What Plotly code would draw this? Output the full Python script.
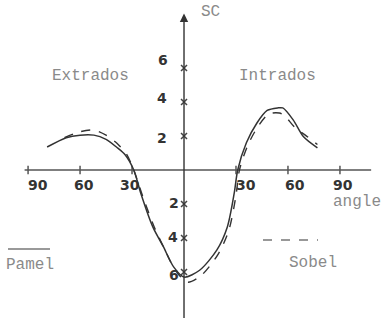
import plotly.graph_objects as go

# Readings from the sketch (angle in degrees, left side = extrados drawn as negative)
pamel_angle = [-79, -68, -60, -52, -45, -39, -34, -29, -25, -18, -12, -6, 0, 9, 19, 25, 29, 31, 36, 42, 48, 54, 57, 63, 69, 77]
pamel_sc = [1.35, 1.9, 2.05, 2.05, 1.8, 1.35, 0.9, 0, -1.35, -3.35, -4.5, -5.7, -6.3, -5.9, -4.7, -3.35, -1.35, 0, 1.6, 2.75, 3.5, 3.65, 3.65, 2.95, 1.95, 1.3]

sobel_angle = [-69, -60, -52, -45, -38, -33, -29, -24, -17, -11, -5, 2, 10, 20, 26, 30, 32, 37, 43, 49, 55, 58, 64, 70, 77]
sobel_sc = [1.9, 2.25, 2.35, 2.05, 1.5, 0.9, 0, -1.5, -3.4, -4.7, -5.9, -6.6, -6.2, -4.9, -3.5, -1.5, 0, 1.5, 2.6, 3.3, 3.35, 3.2, 2.5, 2.05, 1.5]

x_ticks = [-90, -60, -30, 30, 60, 90]
x_tick_text = ['90', '60', '30', '30', '60', '90']
y_ticks = [6, 4, 2, -2, -4, -6]
y_tick_text = ['6', '4', '2', '2', '4', '6']

INK = '#333333'
PENCIL = '#8a8a8a'
MONO = 'Liberation Mono, Courier New, monospace'
HAND = 'DejaVu Sans, sans-serif'

fig = go.Figure()

# axes as drawn lines
fig.add_trace(go.Scatter(x=[-92, 108], y=[0, 0], mode='lines',
                         line=dict(color='#555555', width=1.3), hoverinfo='skip'))
fig.add_trace(go.Scatter(x=x_ticks, y=[0] * len(x_ticks), mode='markers',
                         marker=dict(symbol='line-ns', size=6, line=dict(color='#555555', width=1.5)),
                         hoverinfo='skip'))
fig.add_trace(go.Scatter(x=[0] * len(y_ticks), y=y_ticks, mode='markers',
                         marker=dict(symbol='x-thin', size=6, line=dict(color='#444444', width=1.5)),
                         hoverinfo='skip'))

# curves
fig.add_trace(go.Scatter(x=pamel_angle, y=pamel_sc, mode='lines', name='Pamel',
                         line=dict(color=INK, width=1.5, shape='spline', smoothing=0.8)))
fig.add_trace(go.Scatter(x=sobel_angle, y=sobel_sc, mode='lines', name='Sobel',
                         line=dict(color=INK, width=1.4, dash='dash', shape='spline', smoothing=0.8)))

# vertical axis with arrow
fig.add_annotation(x=0, y=9.2, ax=0, ay=-8.8, xref='x', yref='y', axref='x', ayref='y',
                   showarrow=True, arrowhead=2, arrowsize=1.2, arrowwidth=1.4, arrowcolor=INK, text='')

# tick labels
x_lab_pos = [-84, -58, -31, 36, 64, 92]
for xv, t in zip(x_lab_pos, x_tick_text):
    fig.add_annotation(x=xv, y=-0.9, text='<b>' + t + '</b>', showarrow=False,
                       font=dict(family=HAND, size=14, color=INK))
y_lab_x = [-12, -12.5, -12.5, -5.5, -6.5, -5.5]
y_lab_y = [6.45, 4.25, 1.9, -1.95, -3.95, -6.2]
for xv, yv, t in zip(y_lab_x, y_lab_y, y_tick_text):
    fig.add_annotation(x=xv, y=yv, text='<b>' + t + '</b>', showarrow=False,
                       font=dict(family=HAND, size=14, color=INK))

# words
words = [('Extrados', -54, 5.5), ('Intrados', 54, 5.5), ('SC', 15, 9.3),
         ('angle', 100, -1.9), ('Pamel', -89, -5.6), ('Sobel', 74.5, -5.5)]
for t, xv, yv in words:
    fig.add_annotation(x=xv, y=yv, text=t, showarrow=False,
                       font=dict(family=MONO, size=16, color=PENCIL))

# legend samples
fig.add_shape(type='line', xref='paper', yref='paper', x0=8 / 385, x1=50 / 385,
              y0=1 - 249 / 325, y1=1 - 249 / 325, line=dict(color='#777777', width=1.3))
fig.add_shape(type='line', xref='paper', yref='paper', x0=263 / 385, x1=318 / 385,
              y0=1 - 240 / 325, y1=1 - 240 / 325, line=dict(color='#777777', width=1.3, dash='dash'))

fig.update_layout(
    width=385, height=325,
    margin=dict(l=0, r=0, t=0, b=0),
    paper_bgcolor='white', plot_bgcolor='white',
    showlegend=False,
    xaxis=dict(range=[-106.2, 116.0], visible=False),
    yaxis=dict(range=[-9.12, 10.0], visible=False),
)

fig.write_html("out.html", config={'displayModeBar': False},
               post_script="document.body.style.margin='0';document.body.style.overflow='hidden';")
